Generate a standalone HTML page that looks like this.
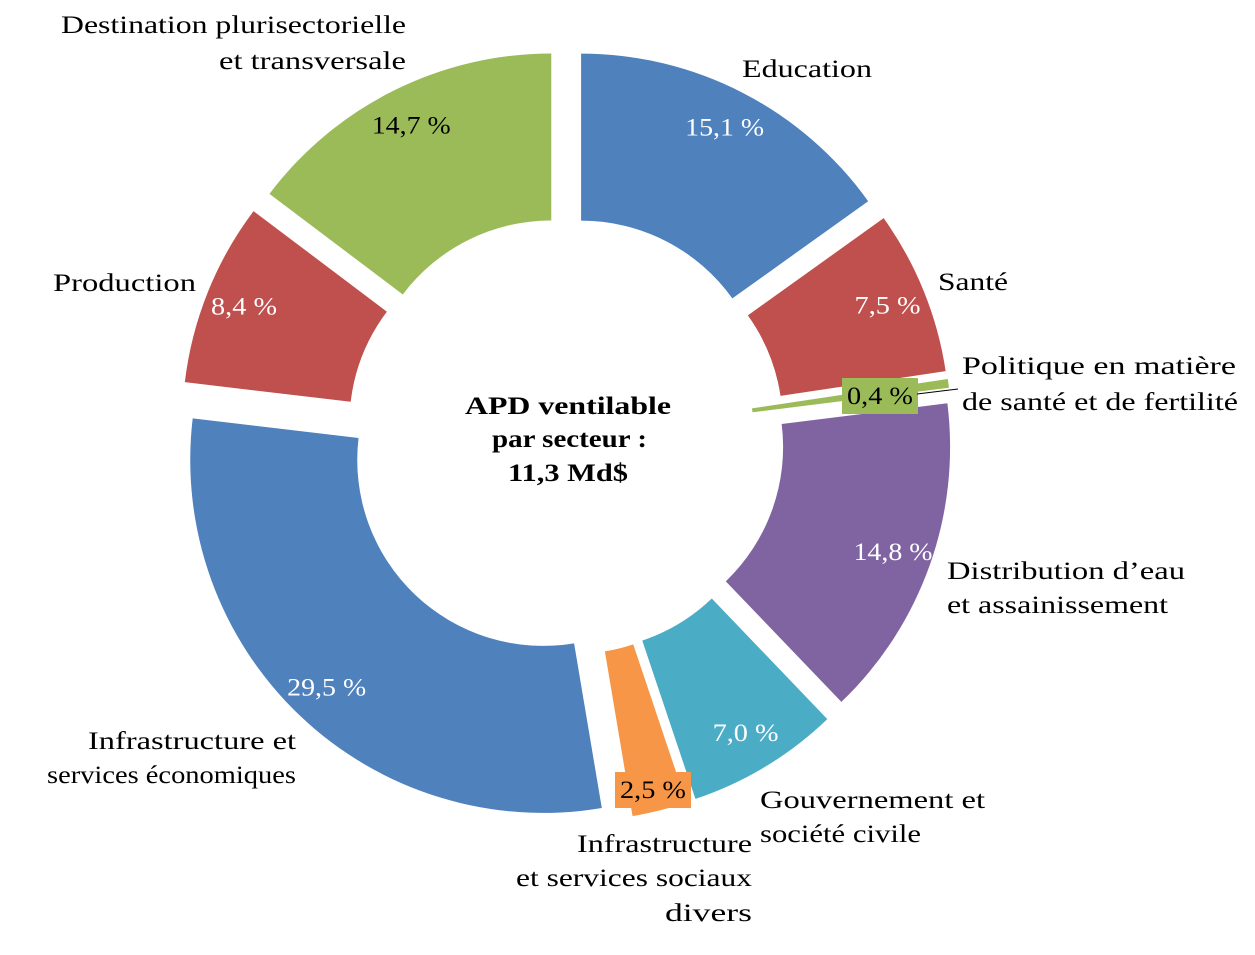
<!DOCTYPE html>
<html><head><meta charset="utf-8"><style>
body{margin:0;background:#fff}
svg text{font-family:"Liberation Serif",serif;font-size:25px}
</style></head><body>
<svg width="1255" height="950" viewBox="0 0 1255 950">
<g id="slices"></g>
<g id="labels"></g>
<text x="465" y="414" textLength="206" lengthAdjust="spacingAndGlyphs" font-weight="bold">APD ventilable</text>
<text x="492" y="447" textLength="155" lengthAdjust="spacingAndGlyphs" font-weight="bold">par secteur :</text>
<text x="508" y="481" textLength="120" lengthAdjust="spacingAndGlyphs" font-weight="bold">11,3 Md$</text>
<g>
<text x="742" y="77" textLength="130" lengthAdjust="spacingAndGlyphs">Education</text>
<text x="938" y="290" textLength="70" lengthAdjust="spacingAndGlyphs">Santé</text>
<text x="962" y="374" textLength="274" lengthAdjust="spacingAndGlyphs">Politique en matière</text>
<text x="962" y="410" textLength="276" lengthAdjust="spacingAndGlyphs">de santé et de fertilité</text>
<text x="947" y="579" textLength="238" lengthAdjust="spacingAndGlyphs">Distribution  d’eau</text>
<text x="947" y="613" textLength="221" lengthAdjust="spacingAndGlyphs">et assainissement</text>
<text x="760" y="808" textLength="225" lengthAdjust="spacingAndGlyphs">Gouvernement et</text>
<text x="760" y="842" textLength="161" lengthAdjust="spacingAndGlyphs">société civile</text>
<text x="577" y="852" textLength="175" lengthAdjust="spacingAndGlyphs">Infrastructure</text>
<text x="516" y="886" textLength="236" lengthAdjust="spacingAndGlyphs">et services sociaux</text>
<text x="665" y="921" textLength="87" lengthAdjust="spacingAndGlyphs">divers</text>
<text x="88" y="749" textLength="208" lengthAdjust="spacingAndGlyphs">Infrastructure et</text>
<text x="47" y="783" textLength="249" lengthAdjust="spacingAndGlyphs">services économiques</text>
<text x="53" y="291" textLength="143" lengthAdjust="spacingAndGlyphs">Production</text>
<text x="61" y="33" textLength="345" lengthAdjust="spacingAndGlyphs">Destination plurisectorielle</text>
<text x="219" y="69" textLength="187" lengthAdjust="spacingAndGlyphs">et transversale</text>
</g>
<line x1="917" y1="394" x2="958" y2="389" stroke="#000" stroke-width="1"/>
</svg>
<script>
const categories=["Education","Santé","Politique","Distribution","Gouvernement","InfraSociaux","InfraEco","Production","Destination"];
const values=[15.1,7.5,0.4,14.8,7.0,2.5,29.5,8.4,14.7];
const valueLabels=["15,1 %","7,5 %","0,4 %","14,8 %","7,0 %","2,5 %","29,5 %","8,4 %","14,7 %"];
const colors=["#4F81BD","#C0504D","#9BBB59","#8064A2","#4BACC6","#F79646","#4F81BD","#C0504D","#9BBB59"];
const cx=566,cy=436,R=353,r0=186,d=33;
const NS="http://www.w3.org/2000/svg";
const total=values.reduce((a,b)=>a+b,0);
const sg=document.getElementById('slices'),lg=document.getElementById('labels');
function pt(a,rad,ox,oy){return [cx+ox+rad*Math.sin(a),cy+oy-rad*Math.cos(a)];}
let cum=0;
values.forEach((v,i)=>{
  const a0=cum/total*2*Math.PI;cum+=v;const a1=cum/total*2*Math.PI;const am=(a0+a1)/2;
  const ox=d*Math.sin(am),oy=-d*Math.cos(am);
  const r=categories[i]==="Politique"?155:r0;
  const p1=pt(a0,R,ox,oy),p2=pt(a1,R,ox,oy),p3=pt(a1,r,ox,oy),p4=pt(a0,r,ox,oy);
  const lf=(a1-a0)>Math.PI?1:0;
  const p=document.createElementNS(NS,'path');
  p.setAttribute('d',`M${p1}A${R},${R} 0 ${lf} 1 ${p2}L${p3}A${r},${r} 0 ${lf} 0 ${p4}Z`);
  p.setAttribute('fill',colors[i]);
  
  
  sg.appendChild(p);
  let lx,ly,fill="#fff",box=false;
  if(categories[i]==="Politique"){lx=880;ly=404;fill="#000";box=true;}
  else if(categories[i]==="InfraSociaux"){lx=653;ly=798;fill="#000";box=true;}
  else{const q=pt(am,314,ox,oy);lx=q[0];ly=q[1]+8;if(categories[i]==="Destination")fill="#000";}
  if(box){
    const b=document.createElementNS(NS,'rect');
    b.setAttribute('x',lx-38);b.setAttribute('y',ly-26);b.setAttribute('width',76);b.setAttribute('height',36);
    b.setAttribute('fill',colors[i]);
    
    
    lg.appendChild(b);
  }
  const t=document.createElementNS(NS,'text');
  t.setAttribute('x',lx);t.setAttribute('y',ly);t.setAttribute('text-anchor','middle');t.setAttribute('fill',fill);
  t.setAttribute('textLength',valueLabels[i].length>5?79:66);t.setAttribute('lengthAdjust','spacingAndGlyphs');
  t.textContent=valueLabels[i];
  
  
  lg.appendChild(t);
});
</script>
</body></html>
